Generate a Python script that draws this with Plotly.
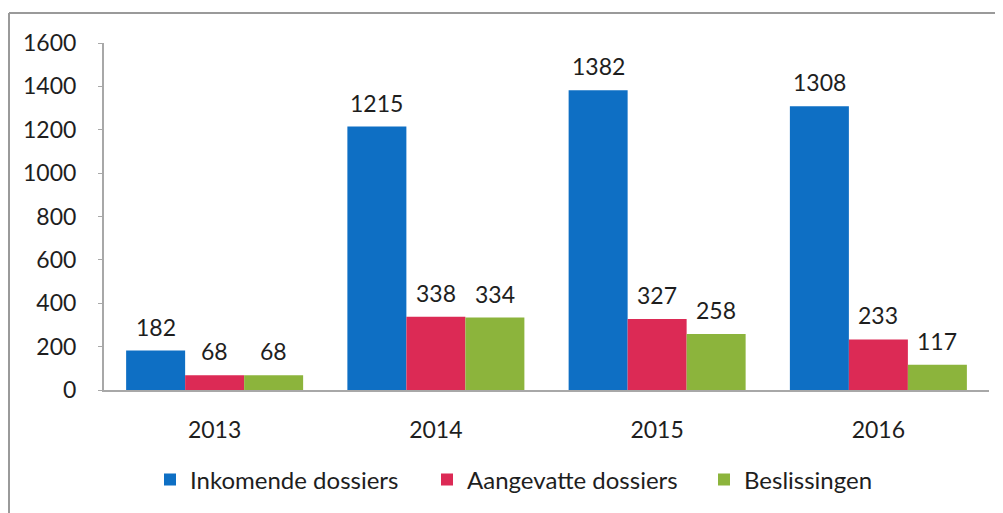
import plotly.graph_objects as go

years = ["2013", "2014", "2015", "2016"]
inkomende = [182, 1215, 1382, 1308]
aangevatte = [68, 338, 327, 233]
beslissingen = [68, 334, 258, 117]
series_names = ["Inkomende dossiers", "Aangevatte dossiers", "Beslissingen"]
colors = ["#0E6FC4", "#DC2A55", "#8CB43C"]
y_ticks = [0, 200, 400, 600, 800, 1000, 1200, 1400, 1600]

OFF = 8  # default page body margin
W, H = 1003 - OFF, 513 - OFF
# target page-pixel positions of the plot area
PL, PR, PT, PB = 104, 989, 43, 390
L, T = PL - OFF, PT - OFF
R, B = W - (PR - OFF), H - (PB - OFF)
pw, ph = W - L - R, H - T - B
BARGAP = 0.2
bar_px = pw / len(years) * (1 - BARGAP) / 3

def px_x(x):
    return (x - OFF - L) / pw

def px_y(y):
    return (H - B - (y - OFF)) / ph

font_fam = "Lato, 'Open Sans', sans-serif"
fig = go.Figure()
annotations = []
all_series = [inkomende, aangevatte, beslissingen]
for i, (name, vals, col) in enumerate(zip(series_names, all_series, colors)):
    fig.add_trace(go.Bar(
        x=years, y=vals, name=name, marker=dict(color=col, line=dict(width=0)),
    ))
    for j, v in enumerate(vals):
        annotations.append(dict(
            x=j, y=v, xref="x", yref="y", text=str(v), showarrow=False,
            xshift=(i - 1) * bar_px, yshift=24, yanchor="middle", xanchor="center",
            font=dict(size=23, color="#1e1e1e", family=font_fam),
        ))

fig.update_layout(
    width=W, height=H,
    margin=dict(l=L, r=R, t=T, b=B, autoexpand=False),
    paper_bgcolor="white", plot_bgcolor="white",
    barmode="group", bargap=BARGAP, bargroupgap=0,
    font=dict(family=font_fam, size=23, color="#1e1e1e"),
    showlegend=True,
    legend=dict(orientation="h", x=px_x(150), xanchor="left", y=px_y(480), yanchor="middle",
                font=dict(size=24, color="#1e1e1e"), itemwidth=30, traceorder="normal",
                entrywidth=232, entrywidthmode="pixels"),
    xaxis=dict(type="category", showline=True, linecolor="#A8A8A8", linewidth=2, ticks="",
               automargin=False, tickfont=dict(size=23), ticklabelstandoff=18),
    yaxis=dict(range=[0, 1600], tickvals=y_ticks, showgrid=False, zeroline=False, automargin=False,
               showline=True, linecolor="#A8A8A8", linewidth=2, ticks="outside",
               ticklen=4, tickcolor="#A8A8A8", tickfont=dict(size=23), ticklabelstandoff=17),
    annotations=annotations,
    shapes=[
        dict(type="line", xref="paper", yref="paper", x0=px_x(9), x1=px_x(1003),
             y0=px_y(13), y1=px_y(13), line=dict(color="#9A9A9A", width=2)),
        dict(type="line", xref="paper", yref="paper", x0=px_x(9), x1=px_x(9),
             y0=px_y(13), y1=px_y(513), line=dict(color="#9A9A9A", width=2)),
    ],
)

fig.write_html("out.html")
